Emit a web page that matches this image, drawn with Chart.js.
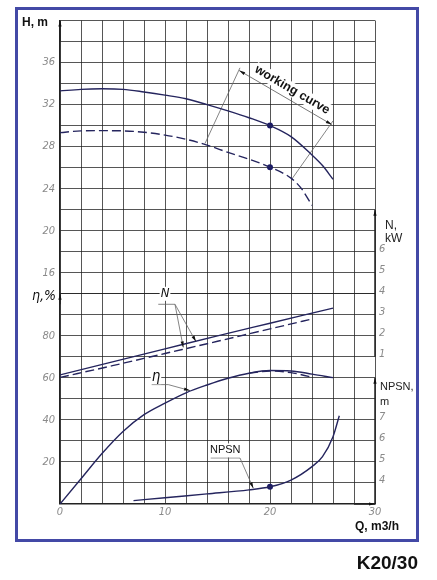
<!DOCTYPE html>
<html>
<head>
<meta charset="utf-8">
<title>K20/30</title>
<script src="https://cdn.jsdelivr.net/npm/chart.js@4.4.1/dist/chart.umd.min.js"></script>
<style>
  html, body { margin: 0; padding: 0; background: #fff; }
  body { width: 437px; height: 580px; position: relative; overflow: hidden; }
  #frame { position: absolute; left: 15px; top: 7px; width: 404px; height: 535px; box-sizing: border-box; border: 3px solid #4349a6; }
  #myChart { position: absolute; left: 0; top: 0; }
  #model { position: absolute; right: 19px; top: 552px; line-height: 19px; font: bold 19px "Liberation Sans", Arial, sans-serif; color: #111; }
</style>
</head>
<body>
<div id="frame"></div>
<canvas id="myChart" width="437" height="580"></canvas>
<div id="model">K20/30</div>
<script>
// values, Q in m3/h
var headQ = [0, 2, 4, 6, 8, 10, 12, 14, 16, 18, 20, 22, 24, 25, 26];
var headWorking = [33.3, 33.45, 33.5, 33.45, 33.2, 32.9, 32.55, 32.0, 31.4, 30.75, 30.0, 28.95, 27.2, 26.2, 24.9];
var headNominalQ = [0, 2, 4, 6, 8, 10, 12, 14, 16, 18, 20, 22, 23, 24];
var headNominal = [29.33, 29.5, 29.52, 29.5, 29.37, 29.1, 28.7, 28.15, 27.45, 26.8, 26.05, 25.0, 24.0, 22.4];
var powerQ = [0, 5, 10, 15, 20, 26];
var powerWorking = [0.14, 0.76, 1.38, 2.0, 2.6, 3.32];
var powerNominalQ = [0, 5, 10, 15, 20, 24];
var powerNominal = [0.02, 0.58, 1.16, 1.74, 2.33, 2.8];
var effQ = [0, 2, 4, 6, 8, 10, 12, 14, 16, 18, 20, 22, 24, 26];
var effWorking = [0, 12, 24, 34.5, 42.5, 48, 52.9, 56.6, 59.8, 62.2, 63.5, 63.3, 61.8, 60.1];
var effNominalQ = [18, 20, 22, 23, 24];
var effNominal = [62.2, 63.3, 62.5, 61.5, 60.3];
var npshQ = [7, 10, 14, 18, 20, 22, 24, 25, 26, 26.6];
var npsh = [3.16, 3.3, 3.48, 3.67, 3.82, 4.14, 4.78, 5.25, 6.2, 7.2];
var dutyQ = 20;
var dutyHead = [30, 26.05];
var dutyNpsh = 3.82;

// tick labels that are printed
var qLabels = [0, 10, 20, 30];
var headLabels = [16, 20, 24, 28, 32, 36];
var effLabels = [20, 40, 60, 80];
var powerLabels = [1, 2, 3, 4, 5, 6];
var npshLabels = [4, 5, 6, 7];

// annotation geometry, in (Q, H) units
var notes = {
  bracket: [[17.07, 35.24], [25.88, 30.1]],
  extLeft: [[17.14, 35.5], [13.81, 28.3]],
  extRight: [[26.0, 30.45], [22.07, 24.9]],
  nUnder: [[9.36, 13.0], [10.95, 13.0]],
  nLead1: [[10.95, 13.0], [11.74, 8.9]],
  nLead2: [[10.95, 13.0], [12.95, 9.45]],
  etaUnder: [[8.73, 5.36], [10.31, 5.36]],
  etaLead: [[10.31, 5.36], [12.38, 4.79]],
  npUnder: [[14.35, -1.62], [17.14, -1.62]],
  npLead: [[17.14, -1.62], [18.41, -4.5]]
};

var curveColor = '#25255e';
var gridColor = 'rgba(30,30,30,0.75)';
var tickColor = '#8a8a8a';
var tickFont = { family: '"Liberation Sans Narrow", "DejaVu Sans Condensed", sans-serif', style: 'italic', size: 11 };

function pts(xs, ys) {
  return xs.map(function (x, i) { return { x: x, y: ys[i] }; });
}

function curve(xs, ys, axis, dashed) {
  return {
    data: pts(xs, ys), yAxisID: axis,
    borderColor: curveColor, borderWidth: 1.4,
    borderDash: dashed ? [9, 4] : [],
    pointRadius: 0, fill: false,
    cubicInterpolationMode: 'monotone'
  };
}

function guide(coords, axis, arrow, color, width) {
  return {
    data: coords.map(function (c) { return { x: c[0], y: c[1] }; }),
    yAxisID: axis,
    borderColor: color || '#666', borderWidth: width || 0.8,
    pointRadius: 0, tension: 0, clip: false,
    arrow: arrow
  };
}

var arrowHeads = {
  id: 'arrowHeads',
  afterDatasetsDraw: function (chart) {
    var ctx = chart.ctx;
    chart.data.datasets.forEach(function (ds, i) {
      if (!ds.arrow) return;
      var p = chart.getDatasetMeta(i).data;
      var n = p.length;
      var heads = [[p[n - 2], p[n - 1]]];
      if (ds.arrow === 'both') heads.push([p[1], p[0]]);
      heads.forEach(function (h) {
        var a = h[0], b = h[1];
        var ang = Math.atan2(b.y - a.y, b.x - a.x);
        var len = 6, half = 1.6;
        ctx.save();
        ctx.translate(b.x, b.y);
        ctx.rotate(ang);
        ctx.beginPath();
        ctx.moveTo(0, 0);
        ctx.lineTo(-len, -half);
        ctx.lineTo(-len, half);
        ctx.closePath();
        ctx.fillStyle = '#111';
        ctx.fill();
        ctx.restore();
      });
    });
  }
};

function boxText(ctx, text, x, y, pad) {
  var w = ctx.measureText(text).width;
  ctx.fillStyle = '#fff';
  ctx.fillRect(x - w / 2 - pad, y - 7, w + pad * 2, 14);
  ctx.fillStyle = '#111';
  ctx.fillText(text, x, y);
}

var textLabels = {
  id: 'textLabels',
  afterDraw: function (chart) {
    var ctx = chart.ctx, s = chart.scales;
    var X = function (v) { return s.x.getPixelForValue(v); };
    var Y = function (v) { return s.yH.getPixelForValue(v); };
    ctx.save();
    ctx.textBaseline = 'middle';
    ctx.fillStyle = '#111';

    ctx.textAlign = 'left';
    ctx.font = 'bold 12px "Liberation Sans", Arial, sans-serif';
    ctx.fillText('H, m', s.x.left - 38, s.yH.top + 2);
    ctx.fillText('Q, m3/h', s.x.right - 20, s.yEta.bottom + 23);

    ctx.font = 'italic 14px "Liberation Sans Narrow", "DejaVu Sans Condensed", sans-serif';
    ctx.fillText('\u03b7,%', s.x.left - 28, s.yEta.getPixelForValue(100) + 3);

    ctx.fillStyle = '#222';
    ctx.font = '12px "Liberation Sans", Arial, sans-serif';
    ctx.fillText('N,', s.x.right + 10, s.yN.getPixelForValue(7) - 5);
    ctx.fillText('kW', s.x.right + 10, s.yN.getPixelForValue(7) + 8);
    ctx.font = '11px "Liberation Sans", Arial, sans-serif';
    ctx.fillText('NPSN,', s.x.right + 5, s.yNpsh.getPixelForValue(9) + 9);
    ctx.fillText('m', s.x.right + 5, s.yNpsh.getPixelForValue(9) + 24);

    // working curve caption, parallel to its bracket
    var b0 = notes.bracket[0], b1 = notes.bracket[1];
    var x0 = X(b0[0]), y0 = Y(b0[1]), x1 = X(b1[0]), y1 = Y(b1[1]);
    var ang = Math.atan2(y1 - y0, x1 - x0);
    ctx.save();
    ctx.translate((x0 + x1) / 2, (y0 + y1) / 2);
    ctx.rotate(ang);
    ctx.textAlign = 'center';
    ctx.font = 'bold 12.5px "Liberation Sans", Arial, sans-serif';
    boxText(ctx, 'working curve', 2, -10, 1);
    ctx.restore();

    ctx.textAlign = 'center';
    ctx.font = 'italic 13px "Liberation Sans Narrow", "DejaVu Sans Condensed", sans-serif';
    boxText(ctx, 'N', X(10.0), Y(14.0), 1);
    ctx.font = 'italic 15px "Liberation Sans Narrow", "DejaVu Sans Condensed", sans-serif';
    boxText(ctx, '\u03b7', X(9.14), Y(6.06), 1);
    ctx.font = '11px "Liberation Sans", Arial, sans-serif';
    boxText(ctx, 'NPSN', X(15.74), Y(-0.9), 1);
    ctx.restore();
  }
};

function labelOnly(list) {
  return function (v) { return list.indexOf(v) >= 0 ? String(v) : ''; };
}
function fixedWidth(scale) { scale.width = 40; }

var datasets = [
  curve(headQ, headWorking, 'yH', false),
  curve(headNominalQ, headNominal, 'yH', true),
  curve(powerQ, powerWorking, 'yN', false),
  curve(powerNominalQ, powerNominal, 'yN', true),
  curve(effQ, effWorking, 'yEta', false),
  curve(effNominalQ, effNominal, 'yEta', true),
  curve(npshQ, npsh, 'yNpsh', false),
  {
    data: dutyHead.map(function (h) { return { x: dutyQ, y: h }; }), yAxisID: 'yH',
    showLine: false, pointRadius: 3, pointBorderWidth: 0, pointBackgroundColor: '#1a1a66'
  },
  {
    data: [{ x: dutyQ, y: dutyNpsh }], yAxisID: 'yNpsh',
    showLine: false, pointRadius: 3, pointBorderWidth: 0, pointBackgroundColor: '#1a1a66'
  },
  // axis arrows and the short right-hand axes
  guide([[0, 38], [0, 40]], 'yH', 'end', '#222', 1.5),
  guide([[0, 95], [0, 100]], 'yEta', 'end', '#222', 1.5),
  guide([[28, 0], [30, 0]], 'yEta', 'end', '#222', 1.5),
  guide([[30, 1], [30, 8]], 'yN', 'end', '#222', 1.5),
  guide([[30, 3], [30, 9]], 'yNpsh', 'end', '#222', 1.5),
  // leaders
  guide(notes.bracket, 'yH', 'both', '#555', 0.8),
  guide(notes.extLeft, 'yH'),
  guide(notes.extRight, 'yH'),
  guide(notes.nUnder, 'yH'),
  guide(notes.nLead1, 'yH', 'end'),
  guide(notes.nLead2, 'yH', 'end'),
  guide(notes.etaUnder, 'yH'),
  guide(notes.etaLead, 'yH', 'end'),
  guide(notes.npUnder, 'yH'),
  guide(notes.npLead, 'yH', 'end')
];

var ctx = document.getElementById('myChart').getContext('2d');
var myChart = new Chart(ctx, {
  type: 'line',
  data: { datasets: datasets },
  options: {
    responsive: false,
    animation: false,
    events: [],
    layout: { padding: { left: 20, right: 22, top: 20.5, bottom: 46 } },
    plugins: { legend: { display: false }, tooltip: { enabled: false } },
    scales: {
      x: {
        type: 'linear', min: 0, max: 30,
        grid: { color: gridColor, lineWidth: 1, drawTicks: false },
        border: { display: true, color: '#222', width: 1.5 },
        ticks: { stepSize: 2, autoSkip: false, maxRotation: 0, minRotation: 0, padding: 2,
          color: tickColor, font: tickFont, callback: labelOnly(qLabels) },
        afterFit: function (s) { s.height = 30; }
      },
      // left column: efficiency at the bottom, H above it (left stacks are placed in reverse order)
      yEta: {
        type: 'linear', position: 'left', stack: 'left', stackWeight: 10, min: 0, max: 100,
        grid: { color: gridColor, lineWidth: 1, drawTicks: false },
        border: { display: true, color: '#222', width: 1.5 },
        ticks: { stepSize: 10, autoSkip: false, padding: 5, color: tickColor, font: tickFont,
          callback: labelOnly(effLabels) },
        afterFit: fixedWidth
      },
      yH: {
        type: 'linear', position: 'left', stack: 'left', stackWeight: 13, min: 14, max: 40,
        grid: { color: gridColor, lineWidth: 1, drawTicks: false },
        border: { display: true, color: '#222', width: 1.5 },
        ticks: { stepSize: 2, autoSkip: false, padding: 5, color: tickColor, font: tickFont,
          callback: labelOnly(headLabels) },
        afterFit: fixedWidth
      },
      // right column: power on top, NPSN below
      yN: {
        type: 'linear', position: 'right', stack: 'right', stackWeight: 17, min: 0, max: 17,
        grid: { display: false, drawTicks: false }, border: { display: false },
        ticks: { stepSize: 1, autoSkip: false, padding: 4, labelOffset: -3, color: tickColor, font: tickFont,
          callback: labelOnly(powerLabels) },
        afterFit: fixedWidth
      },
      yNpsh: {
        type: 'linear', position: 'right', stack: 'right', stackWeight: 6, min: 3, max: 9,
        grid: { display: false, drawTicks: false }, border: { display: false },
        ticks: { stepSize: 1, autoSkip: false, padding: 4, labelOffset: -3, color: tickColor, font: tickFont,
          callback: labelOnly(npshLabels) },
        afterFit: fixedWidth
      }
    }
  },
  plugins: [arrowHeads, textLabels]
});
</script>
</body>
</html>
